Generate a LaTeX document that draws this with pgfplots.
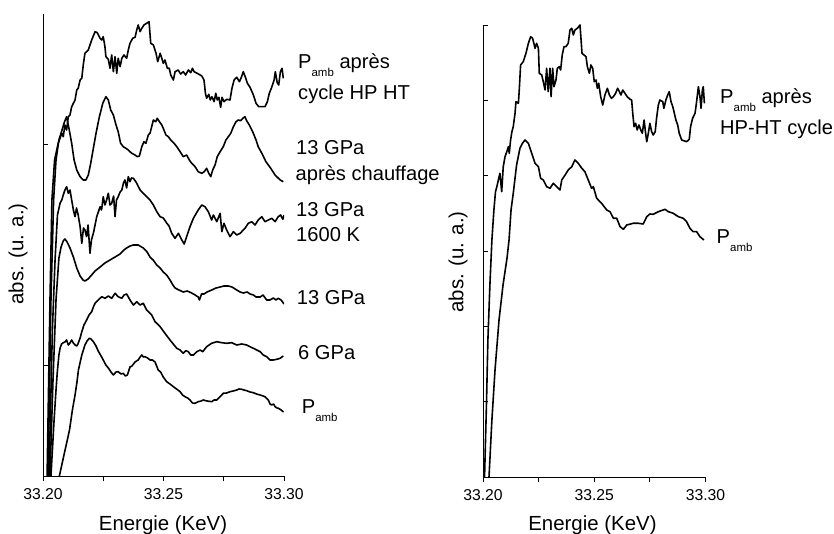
\documentclass[border=0pt]{standalone}
\usepackage{pgfplots}
\pgfplotsset{compat=1.18}
\usepackage{fontspec}
\setmainfont{Liberation Sans}
\newcommand{\ticksize}{\fontsize{15.8}{17}\selectfont}
\newcommand{\labsize}{\fontsize{20.5}{22}\selectfont}
\newcommand{\curvesize}{\fontsize{20.2}{22}\selectfont}
\newcommand{\amb}{{\fontsize{11.5}{12}\selectfont\raisebox{-8.5bp}{amb}}}
\pgfplotsset{
  panel/.style={
    scale only axis, anchor=south west,
    xmin=0, xmax=100, ymin=0,
    axis x line=bottom, axis y line=left,
    axis line style={-, line width=0.9bp, black},
    xtick={0,50,100}, xticklabels={33.20,33.25,33.30},
    minor xtick={25,75},
    ytick=\empty,
    extra y tick labels={},
    extra y tick style={tick align=inside},
    tick align=outside,
    major tick length=5bp, minor tick length=5bp,
    tick style={black, line width=0.9bp},
    xticklabel style={font=\ticksize, inner sep=0pt, anchor=north, yshift=-7bp},
    xlabel={Energie (KeV)}, ylabel={abs. (u. a.)},
    label style={font=\labsize},
    clip=true,
  },
  curve/.style={black, line width=1.6bp, line join=round, no marks},
}
\begin{document}
\begin{tikzpicture}
\useasboundingbox (0,0) rectangle (834bp,534bp);
% ---------------- left panel ----------------
\begin{axis}[panel,
  at={(43bp,58bp)}, width=241bp, height=462bp, ymax=462,
  extra y ticks={111,332},
  xlabel style={at={(axis description cs:0.498,-0.1169)}, anchor=base},
  ylabel style={at={(axis description cs:-0.1037,0.4805)}, anchor=center},
]
% P_amb apres cycle HP HT
\addplot[curve] coordinates {
(1.7,0) (2.9,176) (3.7,276) (4.8,316) (6.3,332.7) (7.8,342.7) (8.4,339.3) (9.1,351) (9.8,346) (10.5,359.3) (11.2,361) (11.9,369.3) (12.6,372.7) (13.3,376) (14.0,386) (14.6,387.7) (15.4,396) (16.1,397.7) (16.7,411) (17.4,422.7) (18.8,426) (20.2,436) (21.6,444.3) (22.5,443.3) (23.7,437.7) (24.4,436) (25.0,439.3) (25.7,429.3) (26.1,419.3) (27.1,416.7) (27.8,407.7) (28.5,421) (29.2,404.3) (29.9,419.3) (30.6,402.7) (31.2,417.7) (32.0,409.3) (32.7,417.7) (33.6,421) (34.7,417.7) (35.4,426) (36.1,432.7) (37.2,437.7) (38.2,438.7) (38.9,446) (39.5,451) (40.3,444.3) (41.0,447.7) (41.9,451) (43.0,452.7) (44.0,454.3) (44.7,432.7) (45.8,431) (46.9,422.7) (47.6,414.3) (48.6,422.7) (49.3,417.7) (49.9,412.7) (50.6,416) (51.6,407.7) (52.4,407.7) (53.0,401) (54.1,396) (54.8,404.3) (56.1,406) (57.1,402) (58.2,404.3) (59.2,401) (60.3,406) (61.3,403.3) (62.0,407.7) (62.7,404.3) (64.0,402.7) (65.9,400) (66.8,396) (67.4,382.7) (67.9,377.7) (68.8,381.7) (69.4,376) (70.1,379.3) (71.0,374.3) (71.7,382.7) (72.3,376) (73.0,378.7) (73.7,368.7) (74.3,378.7) (75.1,374.3) (76.2,376.7) (77.6,376) (78.4,387.7) (79.3,396) (80.4,398.7) (81.5,394.3) (82.3,398.7) (83.1,404.3) (84.0,398.7) (84.8,392.7) (85.9,388.7) (87.3,381) (88.4,372.7) (89.5,369.3) (92.1,369.3) (93.1,374.3) (93.9,382.7) (94.9,388.7) (95.9,396) (96.4,404.3) (97.2,393.3) (97.8,391) (98.5,404.3) (99.2,407.7) (99.7,397.7)
};
% 13 GPa apres chauffage
\addplot[curve] coordinates {
(2.1,0) (3.3,176) (4.4,276) (5.4,316) (6.6,336) (7.9,346) (8.9,354) (9.8,359.3) (10.9,346) (11.9,332.7) (12.9,316) (14.0,306) (15.4,299.3) (16.7,296) (17.8,296) (18.8,301) (19.8,312.7) (20.9,327.7) (22.0,342.7) (23.4,359.3) (24.8,372.7) (26.1,379.3) (27.1,376) (28.1,366) (29.2,361) (30.3,351) (31.2,344.3) (32.2,332.7) (33.3,329.3) (34.4,327.7) (35.4,326) (36.8,322.7) (38.2,321) (39.1,319.3) (40.0,320) (41.0,329.3) (41.9,334.3) (42.7,332.7) (43.7,341) (44.4,342.7) (45.1,349.3) (45.8,356) (46.8,354.3) (47.4,357.7) (48.3,354.3) (49.3,351) (49.9,347.7) (51.0,341) (52.0,339.3) (53.0,336) (54.4,332.7) (55.5,329.3) (56.9,324.3) (58.2,319.3) (59.6,321) (60.7,316) (61.7,312.7) (63.1,309.3) (64.4,304.3) (65.9,302.7) (66.9,304.3) (67.9,307.7) (68.8,302.7) (69.6,299.3) (70.4,306) (71.4,311) (72.3,319.3) (73.5,324.3) (74.8,329.3) (75.9,336) (76.9,339.3) (77.9,342.7) (79.0,349.3) (80.1,354.3) (81.0,356) (82.0,355.3) (82.9,357.7) (83.8,359.3) (84.5,355.3) (85.6,351) (87.0,344.3) (88.4,336) (89.3,329.3) (90.8,322.7) (92.5,314.3) (94.5,307.7) (96.3,301) (98.4,296) (99.7,294.3)
};
% 13 GPa 1600 K
\addplot[curve] coordinates {
(2.5,0) (3.9,146) (5.0,216) (6.0,261) (7.1,273) (7.8,276) (8.4,281) (9.1,286) (9.8,289.3) (10.5,282.7) (11.2,286) (11.9,276) (12.6,266) (13.3,259.3) (13.9,268) (14.6,261) (15.4,249.3) (16.1,232.7) (16.8,248) (17.4,246) (18.1,239.3) (18.7,251) (19.5,222.7) (20.1,236) (20.9,242.7) (22.3,259.3) (23.7,269.3) (24.3,266) (25.0,279.3) (25.7,271) (26.4,276) (27.1,282.7) (27.8,271) (28.5,272.7) (29.3,280) (29.9,259.3) (30.5,276) (31.2,279.3) (32.0,284) (32.7,286) (33.4,293) (34.0,296) (34.7,288) (35.4,299.3) (36.1,294.3) (36.7,298) (37.5,297.7) (38.6,294) (40.3,286) (41.6,282.7) (43.0,279.3) (44.4,276) (45.8,271) (47.2,264.3) (48.6,259.3) (49.9,258) (51.4,252.7) (52.3,250) (53.4,242.7) (54.8,237.7) (56.2,242.7) (57.6,236) (58.6,232) (59.6,239.3) (61.0,249.3) (62.4,257.7) (64.4,266) (65.9,271) (67.2,269.3) (68.6,264.3) (70.0,256) (70.7,261) (72.1,254.3) (73.5,262.7) (74.2,244.3) (75.1,252.7) (76.2,246) (77.6,239.3) (79.0,244.3) (80.4,241) (81.8,242.7) (83.8,247.7) (85.2,252.7) (86.6,254.3) (88.0,251) (89.3,256) (90.8,259.3) (92.1,254.3) (93.5,256) (94.9,257.7) (96.3,254.3) (97.6,259.3) (98.6,261) (99.5,256.7) (100,261)
};
% 13 GPa
\addplot[curve] coordinates {
(2.9,0) (4.15,96) (5.4,176) (6.6,218) (7.5,229) (8.4,235) (9.1,237) (10.0,234) (11.2,228) (12.6,219) (14.0,208) (15.4,200) (16.6,196) (17.4,195) (18.7,197) (20.2,201) (21.6,205) (23.7,209) (25.7,213) (27.8,216) (29.9,219) (32.0,222) (33.6,226) (34.7,228) (36.1,230) (37.5,231) (39.5,231) (41.6,228) (43.2,224) (44.4,219) (45.7,216) (47.2,211) (48.6,208) (49.9,204) (51.3,201) (52.7,196) (53.9,191) (54.8,188) (56.4,186) (58.2,184) (59.8,185) (61.7,183) (63.1,181) (64.4,179) (64.9,176) (65.8,182) (66.8,182) (68.1,184) (70.0,186) (71.8,188) (73.5,189) (75.1,190) (76.9,190) (78.4,189) (80.4,186) (81.8,184) (83.1,183) (84.7,184) (85.9,182) (87.3,181) (88.4,179) (90.1,179) (91.3,181) (92.8,176) (94.2,176) (95.6,178) (96.7,176) (97.6,177.7) (98.8,176) (100,172)
};
% 6 GPa
\addplot[curve] coordinates {
(3.3,0) (4.6,56) (5.4,86) (5.9,103) (6.6,121) (7.1,128) (7.7,132) (8.4,133.3) (9.1,134) (9.8,136) (10.5,131) (11.2,133) (11.9,136) (12.6,133) (13.3,131) (14.0,130) (14.5,132) (15.4,138) (16.1,144.3) (17.0,151) (18.1,156) (19.1,161) (20.2,164.3) (20.9,169) (21.6,172.7) (22.9,176) (24.4,179.3) (25.7,177.7) (27.1,180) (28.5,177.7) (29.9,182.7) (31.2,179.3) (32.7,177.7) (33.6,181) (34.7,182) (36.1,176) (37.5,171) (38.9,174.3) (40.3,171) (41.6,172.7) (43.0,166) (45.1,161) (46.5,154.3) (48.6,149.3) (50.6,142.7) (52.7,136) (55.5,127.7) (56.9,126) (58.2,122.7) (59.3,125.3) (60.3,124.3) (61.3,121) (62.4,121) (63.8,124.3) (65.2,126) (66.3,124.3) (67.9,129.3) (70.0,132.7) (72.1,134.3) (74.2,133.3) (76.2,132.7) (78.3,133.3) (80.4,131) (82.5,132) (84.5,131) (85.9,129.3) (87.3,127.7) (88.7,126) (90.1,124.3) (91.4,121) (92.8,119.3) (94.2,116) (95.6,116) (97.0,116.7) (98.4,117.7) (99.7,120)
};
% P_amb
\addplot[curve] coordinates {
(6.8,0) (8.7,21) (11.0,46) (12.2,66) (13.3,81) (14.1,94) (14.7,106) (16.1,121) (17.4,131) (18.3,135) (19.2,137.7) (19.9,137) (20.9,134.3) (22.0,130) (22.9,125) (24.1,120) (25.0,116) (26.1,111) (27.1,108) (28.2,104) (29.2,101) (30.3,104) (31.2,104.3) (32.4,102) (33.3,102.7) (34.2,100) (35.0,101) (36.1,109) (36.9,110) (38.2,114) (39.5,116) (40.3,119) (41.0,121) (41.7,119) (42.3,119.3) (43.4,118) (44.4,116) (45.4,116) (46.5,114) (47.8,106) (48.8,104) (49.9,99) (51.3,94.3) (52.7,92) (54.1,89.3) (55.4,87) (56.9,84.3) (57.9,81) (58.9,79.3) (60.0,78) (61.0,76) (62.0,73) (63.1,72.7) (64.4,74.3) (65.6,75) (66.5,76) (68.1,75) (70.0,74.3) (71.0,76) (72.1,76) (73.5,79.3) (74.8,82.7) (76.2,83) (77.6,84.3) (78.9,85) (80.4,86) (81.3,87) (82.5,86.7) (83.4,86) (84.5,85.3) (85.9,84) (87.3,83.3) (88.6,82) (90.1,81) (91.3,80) (92.1,79.3) (93.5,76) (94.2,72) (94.9,71) (95.7,72) (96.3,69.3) (97.1,68) (97.7,67.7) (98.8,66) (99.8,64)
};
\end{axis}
% ---------------- right panel ----------------
\begin{axis}[panel,
  at={(483bp,57bp)}, width=222.5bp, height=452bp, ymax=452,
  extra y ticks={75.3,150.7,226,301.3,376.7,452},
  xlabel style={at={(axis description cs:0.492,-0.1173)}, anchor=base},
  ylabel style={at={(axis description cs:-0.1124,0.4757)}, anchor=center},
]
% P_amb apres HP-HT cycle
\addplot[curve] coordinates {
(0.7,0) (1.6,77) (2.2,137) (3.1,192) (4.0,237) (4.9,267) (5.6,285) (6.3,291) (6.9,297) (7.6,303.7) (8.4,285.3) (9.1,310.3) (9.9,320.3) (10.7,325.3) (11.4,330.3) (11.8,323.7) (12.4,337) (13.0,345.3) (13.6,350.3) (14.4,363.7) (14.8,375.3) (15.9,373.7) (16.3,387) (16.9,412) (18.1,415.3) (19.3,423.7) (20.4,433.7) (21.4,440.3) (22.3,438.7) (23.4,428.7) (24.1,433.7) (24.9,428.7) (25.3,403.7) (26.4,402) (27.1,395.3) (27.9,387) (28.6,408.7) (29.3,385.3) (30.1,408.7) (30.6,380.3) (31.3,408.7) (31.9,390.3) (32.8,397) (33.4,408.7) (34.3,410.3) (34.9,407) (35.6,422) (36.4,430.3) (37.3,430.3) (38.3,433.7) (39.1,447) (39.9,448.7) (40.6,442) (41.3,447) (42.4,448.7) (43.6,452) (44.5,423.7) (45.4,422) (46.3,420.3) (46.9,410.3) (47.8,403.7) (48.5,412) (49.3,408.7) (50.0,395.3) (50.8,397) (51.4,388.7) (52.0,393.7) (52.9,380.3) (53.8,372) (54.8,382) (55.9,388.7) (56.8,382) (57.7,378.7) (58.6,380.3) (59.6,383.7) (60.5,388.7) (61.3,385.3) (62.0,382) (62.8,387) (63.8,383.7) (64.8,380.3) (66.1,377.7) (66.8,377) (67.3,363.7) (67.9,350.3) (68.6,353.7) (69.3,347) (70.1,352) (70.9,347) (71.6,343.7) (72.4,357) (73.0,345.3) (73.6,335.3) (74.3,343.7) (75.0,353.7) (75.8,345.3) (76.5,342) (77.4,345.3) (78.0,358.7) (78.8,372) (79.5,377) (80.8,375.3) (81.3,368.7) (82.2,377) (83.0,382) (83.7,385.3) (84.5,375.3) (85.3,370.3) (86.0,363.7) (86.7,357) (87.5,352) (88.2,343.7) (89.3,337) (91.5,335.3) (92.7,337.7) (93.3,350.3) (94.2,358.7) (95.3,363.7) (96.0,375.3) (96.8,390.3) (97.5,380.3) (98.0,368.7) (98.6,387) (99.0,390.3) (99.5,373.7)
};
% P_amb
\addplot[curve] coordinates {
(2.7,0) (4.0,57) (5.4,107) (7.2,157) (9.0,192) (10.8,219) (11.7,237) (12.6,267) (13.6,283.7) (14.4,299) (15.1,312) (16.0,322) (16.6,328.7) (17.8,334) (18.9,337) (20.4,333.7) (21.9,323.7) (23.4,313.7) (24.9,310.3) (25.9,298.7) (27.1,297) (28.6,290.3) (30.1,288.7) (31.6,293.7) (33.1,290.3) (34.6,287) (35.4,297) (36.9,302) (38.3,307) (39.9,310.3) (41.3,317) (42.8,313.7) (44.4,308.7) (45.8,305.3) (47.3,297) (48.8,288.7) (49.6,290.3) (51.1,278.7) (53.3,273.7) (55.6,267) (57.1,265.3) (58.6,258.7) (60.1,258.7) (61.6,250.3) (63.1,247.7) (64.6,252) (67.5,253.7) (69.8,253.7) (72.0,253) (73.6,260.3) (75.0,263) (76.5,262.7) (78.8,265.3) (81.8,267.7) (83.3,265.3) (85.5,263.7) (87.8,260.3) (90.0,258.7) (91.5,255.3) (93.0,248.7) (94.5,245.3) (96.0,245.3) (97.5,240.3) (99.3,237)
};
\end{axis}
% ---------------- curve labels ----------------
\begin{scope}[every node/.style={anchor=base west, inner sep=0pt, font=\curvesize}]
\node at (298bp,465.7bp) {P\amb{} après};
\node at (298bp,434bp) {cycle HP HT};
\node at (296bp,379bp) {13 GPa};
\node at (295.5bp,353.5bp) {après chauffage};
\node at (296bp,317.3bp) {13 GPa};
\node at (296bp,292.3bp) {1600 K};
\node at (296.7bp,229bp) {13 GPa};
\node at (298bp,174bp) {6 GPa};
\node at (301.7bp,120.7bp) {P\amb};
\node at (720bp,430.7bp) {P\amb{} après};
\node at (720bp,399bp) {HP-HT cycle};
\node at (716.5bp,290.7bp) {P\amb};
\end{scope}
\end{tikzpicture}
\end{document}
